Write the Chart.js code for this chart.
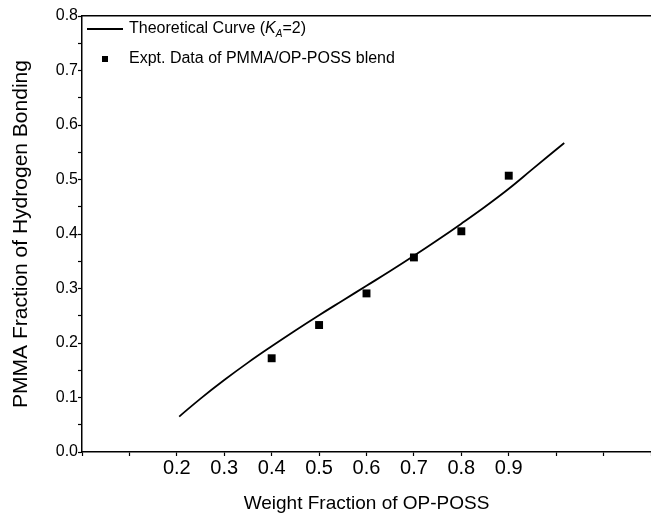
<!DOCTYPE html>
<html>
<head>
<meta charset="utf-8">
<script src="https://cdn.jsdelivr.net/npm/chart.js@4/dist/chart.umd.min.js"></script>
<style>
  html, body { margin: 0; padding: 0; background: #fff; }
  #wrap { width: 651px; height: 519px; position: relative; }
</style>
</head>
<body>
<div id="wrap"><canvas id="myChart"></canvas></div>
<script>
// theoretical curve (KA=2)
var curveX = [0.205, 0.25, 0.3, 0.35, 0.4, 0.45, 0.5, 0.55, 0.6, 0.65, 0.7, 0.75, 0.8, 0.85, 0.9, 0.95, 1.017]
var curveY = [0.065, 0.098, 0.132, 0.164, 0.194, 0.223, 0.251, 0.278, 0.305, 0.332, 0.360, 0.389, 0.419, 0.450, 0.483, 0.519, 0.567]

// experimental points
var exptX = [0.4, 0.5, 0.6, 0.7, 0.8, 0.9]
var exptY = [0.172, 0.233, 0.291, 0.357, 0.405, 0.507]

// tick labels that are shown
var xTickLabels = ['0.2', '0.3', '0.4', '0.5', '0.6', '0.7', '0.8', '0.9']
var yTickLabels = ['0.0', '0.1', '0.2', '0.3', '0.4', '0.5', '0.6', '0.7', '0.8']

var curveLabel = 'Theoretical Curve (KA=2)'
var exptLabel = 'Expt. Data of PMMA/OP-POSS blend'
var xTitle = 'Weight Fraction of OP-POSS'
var yTitle = 'PMMA Fraction of Hydrogen Bonding'

var FONT = '"Liberation Sans", Arial, Helvetica, sans-serif'

function toPoints (xs, ys) {
  var out = []
  for (var i = 0; i < xs.length; i++) {
    out.push({x: xs[i], y: ys[i]})
  }
  return out
}

// no extra room for tick labels at the ends
function noPad (s) {
  s.paddingLeft = 0
  s.paddingRight = 0
  s.paddingTop = 0
  s.paddingBottom = 0
}

// legend drawn by hand so the subscript A can be shown
var legendPlugin = {
  id: 'handLegend',
  afterDraw (chart) {
    var ctx = chart.ctx
    var area = chart.chartArea
    var x0 = area.left + 5
    var y1 = area.top + 13
    var y2 = area.top + 43
    ctx.save()
    ctx.fillStyle = '#000'
    ctx.strokeStyle = '#000'
    // row 1: line sample
    ctx.lineWidth = 1.8
    ctx.beginPath()
    ctx.moveTo(x0, y1)
    ctx.lineTo(x0 + 36, y1)
    ctx.stroke()
    ctx.textBaseline = 'middle'
    ctx.font = '16px ' + FONT
    var tx = x0 + 42
    var part = 'Theoretical Curve ('
    ctx.fillText(part, tx, y1)
    tx += ctx.measureText(part).width
    ctx.font = 'italic 16px ' + FONT
    ctx.fillText('K', tx, y1)
    tx += ctx.measureText('K').width
    ctx.font = 'italic 10px ' + FONT
    ctx.fillText('A', tx, y1 + 5)
    tx += ctx.measureText('A').width
    ctx.font = '16px ' + FONT
    ctx.fillText('=2)', tx, y1)
    // row 2: square sample
    ctx.fillRect(x0 + 15, y2 - 3, 6, 6)
    ctx.fillText(exptLabel, x0 + 42, y2)
    ctx.restore()
  }
}

var ctx = document.getElementById('myChart').getContext('2d')
var chart = new Chart(ctx, {
  type: 'line',
  data: {
    datasets: [
      {
        label: curveLabel,
        data: toPoints(curveX, curveY),
        borderColor: '#000',
        borderWidth: 1.8,
        pointRadius: 0,
        tension: 0.4,
        fill: false
      },
      {
        label: exptLabel,
        data: toPoints(exptX, exptY),
        showLine: false,
        pointStyle: 'rect',
        pointRadius: 5.6,
        pointBorderWidth: 0,
        backgroundColor: '#000',
        borderColor: '#000'
      }
    ]
  },
  options: {
    responsive: true,
    maintainAspectRatio: false,
    animation: false,
    layout: { padding: 0, autoPadding: false },
    plugins: {
      legend: { display: false },
      tooltip: { enabled: false }
    },
    scales: {
      x: {
        type: 'linear',
        position: 'bottom',
        min: 0,
        max: 1.2,
        afterFit (s) { s.height = 67; noPad(s) },
        border: { display: true, color: '#000', width: 1.5 },
        grid: { drawOnChartArea: false, tickLength: 4, color: '#000', tickWidth: 1.2 },
        ticks: {
          stepSize: 0.1,
          padding: 0,
          color: '#000',
          font: { family: FONT, size: 20 },
          maxRotation: 0,
          autoSkip: false,
          callback (v) {
            var s = v.toFixed(1)
            return xTickLabels.indexOf(s) >= 0 ? s : ''
          }
        },
        title: {
          display: true,
          text: xTitle,
          color: '#000',
          font: { family: FONT, size: 19 },
          padding: { top: 0, bottom: 4 }
        }
      },
      xTop: {
        type: 'linear',
        position: 'top',
        min: 0,
        max: 1.2,
        afterFit (s) { s.height = 16; noPad(s) },
        border: { display: true, color: '#000', width: 1.5 },
        grid: { display: true, drawOnChartArea: false, drawTicks: false },
        ticks: { display: false }
      },
      y: {
        type: 'linear',
        min: 0,
        max: 0.8,
        afterFit (s) { s.width = 82; noPad(s) },
        border: { display: true, color: '#000', width: 1.5 },
        grid: { drawOnChartArea: false, tickLength: 4, color: '#000', tickWidth: 1.2 },
        ticks: {
          stepSize: 0.05,
          padding: 0,
          color: '#000',
          font: { family: FONT, size: 16 },
          autoSkip: false,
          callback (v) {
            var s = v.toFixed(1)
            if (Math.abs(v * 10 - Math.round(v * 10)) > 1e-6) return ''
            return yTickLabels.indexOf(s) >= 0 ? s : ''
          }
        },
        title: {
          display: true,
          text: yTitle,
          color: '#000',
          font: { family: FONT, size: 21 },
          padding: { top: 9, bottom: 0 }
        }
      }
    }
  },
  plugins: [legendPlugin]
})
</script>
</body>
</html>
